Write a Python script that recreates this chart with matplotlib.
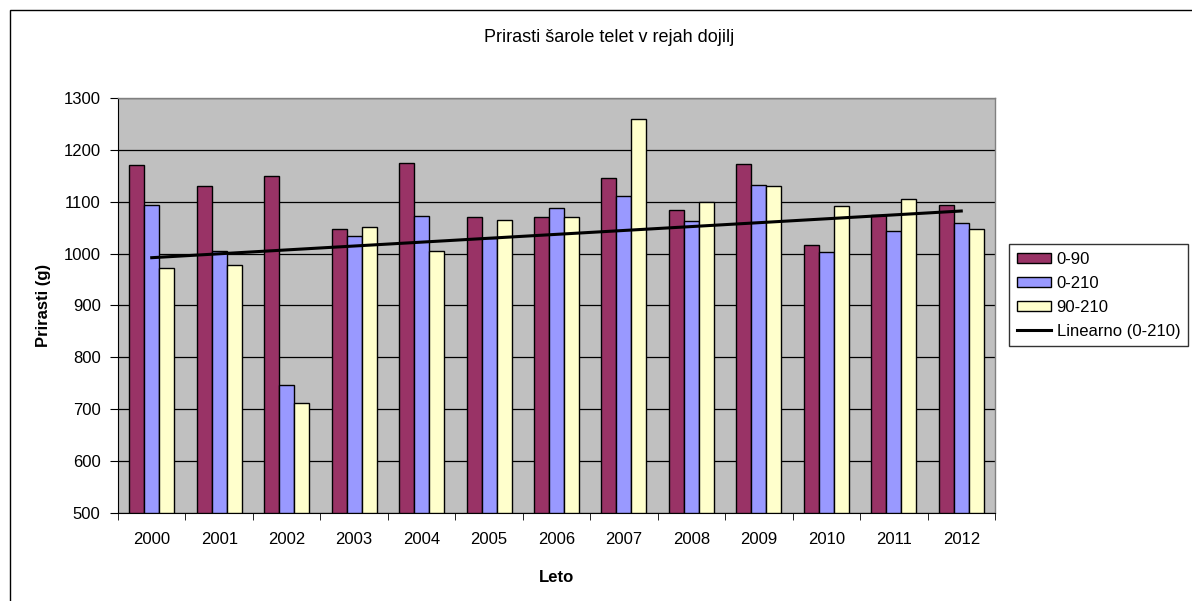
import matplotlib
matplotlib.use("Agg")
import matplotlib.pyplot as plt
import numpy as np
from matplotlib.patches import Rectangle, Patch
from matplotlib.lines import Line2D

plt.rcParams['font.family'] = ['Liberation Sans', 'DejaVu Sans']

years = ["2000", "2001", "2002", "2003", "2004", "2005", "2006",
         "2007", "2008", "2009", "2010", "2011", "2012"]
s_0_90 = [1170, 1130, 1150, 1048, 1175, 1070, 1070, 1145, 1085, 1172, 1017, 1074, 1093]
s_0_210 = [1093, 1006, 747, 1034, 1073, 1030, 1088, 1112, 1062, 1132, 1003, 1043, 1060]
s_90_210 = [972, 978, 713, 1051, 1006, 1065, 1070, 1259, 1099, 1130, 1091, 1105, 1048]
yticks = [500, 600, 700, 800, 900, 1000, 1100, 1200, 1300]

W, H = 1192, 601
fig = plt.figure(figsize=(W / 100, H / 100), dpi=100)
fig.patch.set_facecolor("white")
fig.patches.append(Rectangle((10 / W, -0.01), 1.01 - 10 / W, 1.01 - 10 / H, transform=fig.transFigure,
                             fill=False, edgecolor="black", linewidth=1.0))

ax = fig.add_axes([118 / W, 1 - 513 / H, (995 - 118) / W, (513 - 98) / H])
ax.set_facecolor("#C0C0C0")

x = np.arange(len(years))
bw = 0.222
cols = ["#993366", "#9999FF", "#FFFFCC"]
for i, (vals, c) in enumerate(zip([s_0_90, s_0_210, s_90_210], cols)):
    ax.bar(x + (i - 1) * bw, np.array(vals) - 500, bottom=500, width=bw, color=c,
           edgecolor="black", linewidth=1.0, zorder=3)

coef = np.polyfit(x, s_0_210, 1)
ax.plot(x, np.polyval(coef, x), color="black", linewidth=2.2, zorder=4)

fs = 12
ax.set_xlim(-0.5, len(years) - 0.5)
ax.set_ylim(500, 1300)
ax.set_yticks(yticks)
ax.set_yticklabels([str(v) for v in yticks], fontsize=fs)
ax.yaxis.grid(True, color="#000000", linewidth=0.9, zorder=1)
ax.set_axisbelow(True)

ax.set_xticks(x)
ax.set_xticklabels(years, fontsize=fs)
ax.set_xticks(np.arange(-0.5, len(years)), minor=True)
ax.tick_params(axis="x", which="major", length=0, pad=14)
ax.tick_params(axis="x", which="minor", length=5, direction="out", color="black")
ax.tick_params(axis="y", length=6, direction="out", pad=6.5)

for side in ["top", "right"]:
    ax.spines[side].set_color("#808080")
    ax.spines[side].set_linewidth(1.0)
for side in ["left", "bottom"]:
    ax.spines[side].set_color("black")

ax.set_xlabel("Leto", fontsize=fs, fontweight="bold", labelpad=16)
ax.set_ylabel("Prirasti (g)", fontsize=fs, fontweight="bold", labelpad=9)
fig.text(609 / W, 1 - 38 / H, "Prirasti šarole telet v rejah dojilj", ha="center", va="center", fontsize=13)

handles = [Patch(facecolor=cols[0], edgecolor="black", label="0-90"),
           Patch(facecolor=cols[1], edgecolor="black", label="0-210"),
           Patch(facecolor=cols[2], edgecolor="black", label="90-210"),
           Line2D([0], [0], color="black", linewidth=2.2, label="Linearno (0-210)")]
leg = fig.legend(handles=handles, loc="upper left", bbox_to_anchor=(1009 / W, 1 - 244 / H),
                 fontsize=fs, frameon=True, fancybox=False, borderpad=0.46, labelspacing=0.54,
                 handlelength=2.05, handleheight=0.55, handletextpad=0.35, borderaxespad=0)
leg.get_frame().set_edgecolor("black")
leg.get_frame().set_linewidth(1.0)

fig.savefig("out.png", dpi=100)
